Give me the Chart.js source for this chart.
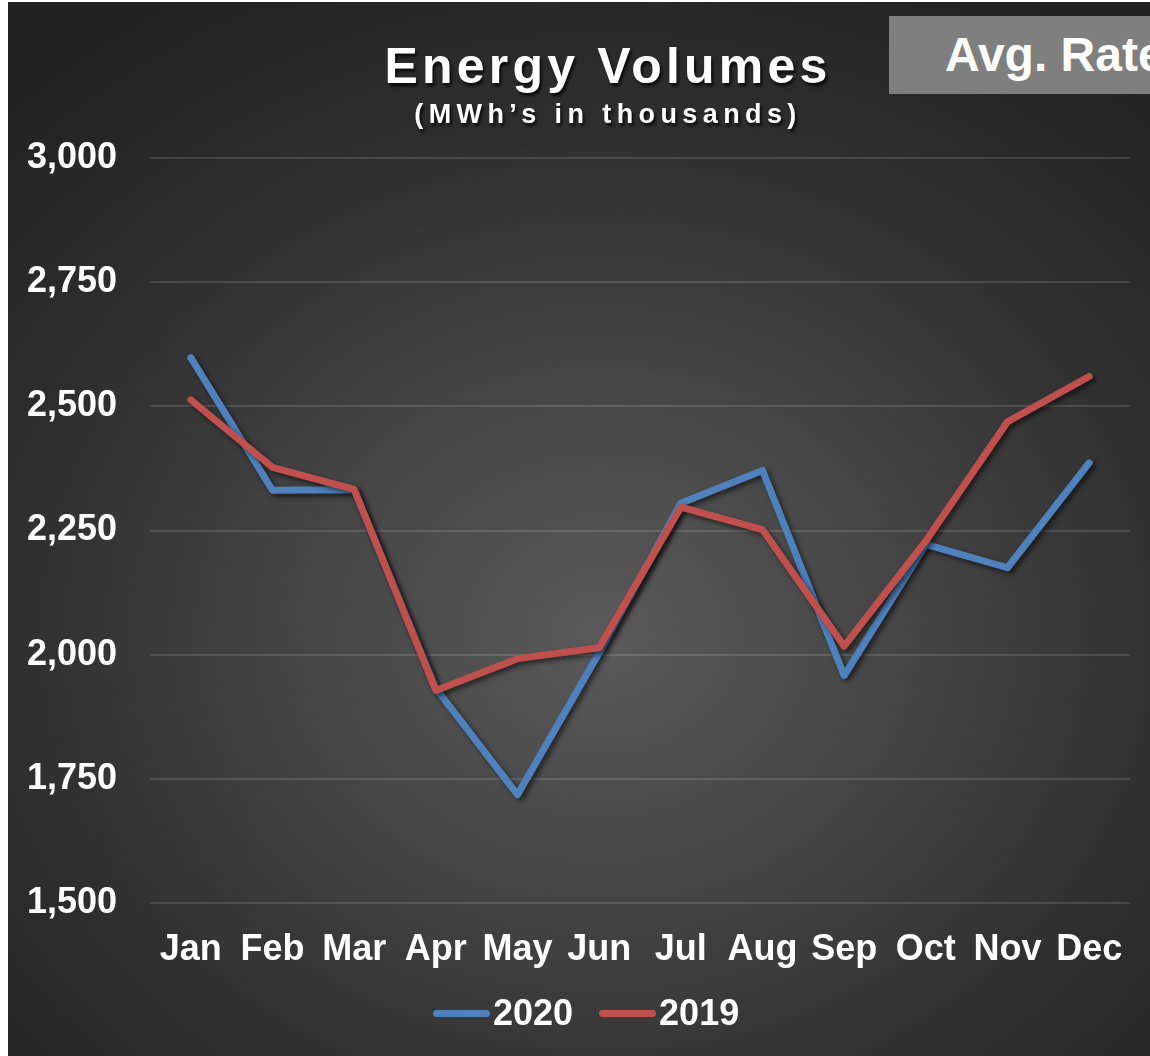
<!DOCTYPE html>
<html>
<head>
<meta charset="utf-8">
<script src="https://cdn.jsdelivr.net/npm/chart.js@4"></script>
<style>
  html, body { margin: 0; padding: 0; background: #fff; overflow: hidden; }
  body { width: 1150px; height: 1056px; position: relative; font-family: "Liberation Sans", Arial, sans-serif; }
  #panel {
    position: absolute; left: 8px; top: 2px; width: 1142px; height: 1054px;
    background: radial-gradient(ellipse 75% 70% at 52% 60%, #5a5a5a 0%, #454545 35%, #2e2e2e 70%, #222 100%);
  }
  #panel canvas { position: absolute; left: 0; top: 0; }
  .title {
    position: absolute; left: 608px; transform: translateX(-50%);
    color: #fff; font-weight: bold; white-space: nowrap; line-height: 1;
    text-shadow: 2px 3px 3px rgba(0,0,0,0.75);
  }
  #main { top: 41px; font-size: 50px; letter-spacing: 4.2px; }
  #sub { top: 101px; font-size: 27px; letter-spacing: 5.4px; }
  #rate {
    position: absolute; left: 889px; top: 16px; width: 261px; height: 78px;
    background: #7f7f7f; overflow: hidden; white-space: nowrap;
    color: #fff; font-weight: bold; font-size: 48px; line-height: 78px;
    padding-left: 56px; box-sizing: border-box;
  }
  #legend {
    position: absolute; left: 433px; top: 991px; height: 44px;
    display: flex; align-items: center; white-space: nowrap;
    color: #fff; font-weight: bold; font-size: 36px; line-height: 44px;
  }
  #legend .item { display: flex; align-items: center; margin-right: 26px; }
  #legend .swatch { width: 57px; height: 7px; border-radius: 4px; margin-right: 3px; }
</style>
</head>
<body>
<div id="panel"><canvas id="energy-chart" width="1142" height="1054"></canvas></div>
<div class="title" id="main">Energy Volumes</div>
<div class="title" id="sub">(MWh’s in thousands)</div>
<div id="rate">Avg. Rate</div>
<div id="legend"></div>
<script>
const months = ['Jan', 'Feb', 'Mar', 'Apr', 'May', 'Jun', 'Jul', 'Aug', 'Sep', 'Oct', 'Nov', 'Dec'];
const vol2020 = [2598, 2331, 2332, 1932, 1718, 2004, 2305, 2371, 1958, 2222, 2175, 2386];
const vol2019 = [2513, 2377, 2333, 1928, 1992, 2014, 2297, 2252, 2017, 2229, 2469, 2560];
const yMin = 1500;
const yMax = 3000;
const yStep = 250;

const labelFont = { family: '"Liberation Sans", Arial, sans-serif', size: 36, weight: 'bold' };

// soft drop shadow under the lines
const lineShadow = {
  id: 'lineShadow',
  beforeDatasetsDraw(chart) {
    const ctx = chart.ctx;
    ctx.save();
    ctx.shadowColor = 'rgba(0,0,0,0.55)';
    ctx.shadowBlur = 5;
    ctx.shadowOffsetX = 3;
    ctx.shadowOffsetY = 3;
  },
  afterDatasetsDraw(chart) {
    chart.ctx.restore();
  }
};

const ctx = document.getElementById('energy-chart').getContext('2d');
const energyChart = new Chart(ctx, {
  type: 'line',
  data: {
    labels: months,
    datasets: [
      {
        label: '2020',
        data: vol2020,
        borderColor: '#4f81bd',
        backgroundColor: '#4f81bd',
        order: 1
      },
      {
        label: '2019',
        data: vol2019,
        borderColor: '#c0504d',
        backgroundColor: '#c0504d',
        order: 0
      }
    ]
  },
  options: {
    responsive: false,
    animation: false,
    layout: {
      padding: { top: 156, right: 20, bottom: 78, left: 0 }
    },
    elements: {
      line: { borderWidth: 7, tension: 0, borderCapStyle: 'round', borderJoinStyle: 'round' },
      point: { radius: 0, hoverRadius: 0 }
    },
    plugins: {
      title: { display: false },
      tooltip: { enabled: false },
      legend: { display: false }
    },
    scales: {
      x: {
        offset: true,
        grid: { display: false },
        border: { display: false },
        ticks: { color: '#fff', font: labelFont, padding: 17, maxRotation: 0 },
        afterFit(scale) { scale.height = 75; }
      },
      y: {
        min: yMin,
        max: yMax,
        grid: { color: 'rgba(255,255,255,0.13)', lineWidth: 2, drawTicks: false },
        border: { display: false },
        ticks: {
          stepSize: yStep,
          color: '#fff',
          font: labelFont,
          padding: 33,
          callback: (v) => v.toLocaleString('en-US')
        },
        afterFit(scale) { scale.width = 142; }
      }
    }
  },
  plugins: [lineShadow]
});

// legend built from the chart's datasets
const legendEl = document.getElementById('legend');
energyChart.data.datasets.forEach((ds) => {
  const item = document.createElement('div');
  item.className = 'item';
  const sw = document.createElement('span');
  sw.className = 'swatch';
  sw.style.background = ds.borderColor;
  const txt = document.createElement('span');
  txt.textContent = ds.label;
  item.appendChild(sw);
  item.appendChild(txt);
  legendEl.appendChild(item);
});
</script>
</body>
</html>
